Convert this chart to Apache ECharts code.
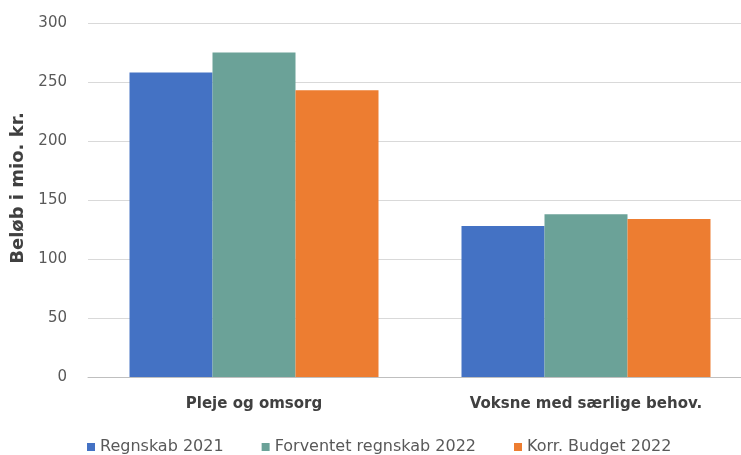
<!DOCTYPE html>
<html>
<head>
<meta charset="utf-8">
<script src="https://cdn.jsdelivr.net/npm/echarts@6/dist/echarts.min.js"></script>
<style>html,body{margin:0;padding:0;background:#fff;overflow:hidden;width:741px;height:455px}#c{width:752px;height:455px}</style>
</head>
<body>
<div id="c"></div>
<script>
const categories = ["Pleje og omsorg", "Voksne med særlige behov."];
const seriesNames = ["Regnskab 2021", "Forventet regnskab 2022", "Korr. Budget 2022"];
const regnskab2021 = [258, 128];
const forventet2022 = [275, 138];
const korrBudget2022 = [243, 134];
const yTicks = [0, 50, 100, 150, 200, 250, 300];
const colors = ["#4472C4", "#6BA298", "#ED7D31"];

const chart = echarts.init(document.getElementById('c'), null, {renderer: 'canvas'});
const font = "'DejaVu Sans', sans-serif";
chart.setOption({
  animation: false,
  color: colors,
  textStyle: {fontFamily: font},
  grid: {left: 88, top: 23, right: 0, height: 354},
  legend: {
    top: 434, left: 82,
    itemWidth: 8, itemHeight: 8, itemGap: 38,
    icon: 'rect',
    textStyle: {fontSize: 16, color: '#595959', fontFamily: font},
    data: seriesNames
  },
  xAxis: {
    type: 'category', data: categories,
    axisLine: {lineStyle: {color: '#bfbfbf'}},
    axisTick: {show: false},
    axisLabel: {fontSize: 15, fontWeight: 'bold', color: '#404040', margin: 20, fontFamily: font}
  },
  yAxis: {
    type: 'value', min: yTicks[0], max: yTicks[yTicks.length - 1], interval: 50,
    name: 'Beløb i mio. kr.', nameLocation: 'middle', nameGap: 61,
    nameTextStyle: {fontSize: 18, fontWeight: 'bold', color: '#404040', fontFamily: font, padding: [0, 0, 0, 24]},
    axisLine: {show: false}, axisTick: {show: false},
    axisLabel: {fontSize: 15, color: '#595959', margin: 21, fontFamily: font},
    splitLine: {lineStyle: {color: '#d9d9d9'}}
  },
  series: [
    {name: seriesNames[0], type: 'bar', data: regnskab2021, barGap: '0%', barCategoryGap: '25%'},
    {name: seriesNames[1], type: 'bar', data: forventet2022, barGap: '0%', barCategoryGap: '25%'},
    {name: seriesNames[2], type: 'bar', data: korrBudget2022, barGap: '0%', barCategoryGap: '25%'}
  ]
});
</script>
</body>
</html>
